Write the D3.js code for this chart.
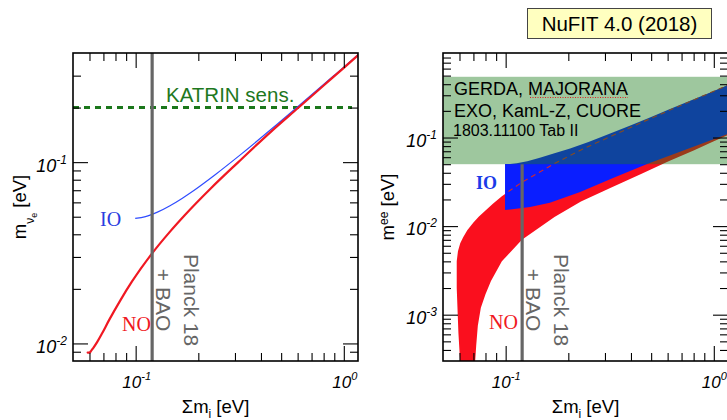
<!DOCTYPE html>
<html><head><meta charset="utf-8">
<script src="https://cdn.jsdelivr.net/npm/d3@7"></script>
<style>
body{margin:0;background:#fff}
svg{display:block}
text{font-family:"Liberation Sans",Arial,Helvetica,sans-serif}
.serif{font-family:"Liberation Serif","Times New Roman",serif}
</style>
</head><body>
<svg id="c" width="727" height="420"></svg>
<script>
// ---------------- data ----------------
const sumDomain = [0.05, 1.17];        // Σm_i [eV]
const mnueDomain = [0.008, 0.4];       // m_νe [eV]
const meeDomain = [0.0003, 0.9];       // m_ee [eV]

// left panel: m_νe vs Σm_i
const noMnueSum = [0.0588, 0.0600, 0.0611, 0.0624, 0.0654, 0.0688, 0.0744, 0.0847, 0.0959, 0.1197, 0.1452, 0.1716, 0.2300, 0.3123, 0.4500, 0.6064, 0.8000, 1.0000, 1.2030];
const noMnue    = [0.0089, 0.0089, 0.0091, 0.0094, 0.0102, 0.0113, 0.0134, 0.0174, 0.0219, 0.0313, 0.0410, 0.0508, 0.0718, 0.1004, 0.1484, 0.2002, 0.2647, 0.3314, 0.4001];
const ioMnueSum = [0.0995, 0.1115, 0.1272, 0.1462, 0.1677, 0.1911, 0.2418, 0.3236, 0.4661, 0.6123, 0.9082, 1.1614];
const ioMnue    = [0.0490, 0.0501, 0.0530, 0.0575, 0.0633, 0.0700, 0.0855, 0.1114, 0.1578, 0.2059, 0.3040, 0.3882];
const katrinSens = 0.2;
const planckBaoSum = 0.12;

// right panel: m_ee bands vs Σm_i
const noUpperSum = [0.0582, 0.0590, 0.0605, 0.0625, 0.0654, 0.0700, 0.0744, 0.0800, 0.0871, 0.0959, 0.1197, 0.1716, 0.2300, 0.3123, 0.4500, 0.6064, 0.8000, 1.0000, 1.1733];
const noUpperMee = [0.0040, 0.0052, 0.0064, 0.0075, 0.0090, 0.0110, 0.0128, 0.0150, 0.0180, 0.0218, 0.0313, 0.0508, 0.0725, 0.1004, 0.1480, 0.2010, 0.2660, 0.3330, 0.3910];
const noLowerRightSum = [0.0700, 0.0710, 0.0722, 0.0735, 0.0760, 0.0800, 0.0850, 0.0959, 0.1197, 0.1716, 0.2300, 0.3123, 0.4500, 0.6064, 0.8000, 1.0000, 1.1733];
const noLowerRightMee = [0.0001, 0.00025, 0.00045, 0.00075, 0.0012, 0.0017, 0.0024, 0.0040, 0.0070, 0.01265, 0.0190, 0.0264, 0.0390, 0.0540, 0.0715, 0.0910, 0.1070];
const noLowerLeftSum = [0.0582, 0.0593, 0.0604, 0.0610];
const noLowerLeftMee = [0.0020, 0.00062, 0.0003, 0.0001];
const ioUpperSum = [0.0993, 0.1050, 0.1130, 0.1270, 0.1460, 0.1700, 0.2040, 0.2500, 0.3200, 0.4000, 0.5000, 0.6200, 0.7800, 0.9500, 1.1700];
const ioUpperMee = [0.0502, 0.0504, 0.0512, 0.0540, 0.0590, 0.0660, 0.0750, 0.0890, 0.1120, 0.1380, 0.1710, 0.2110, 0.2630, 0.3190, 0.3920];
const ioLowerSum = [0.0993, 0.1310, 0.1630, 0.2280, 0.3280, 0.4780, 0.7690, 1.1700];
const ioLowerMee = [0.0152, 0.0164, 0.0183, 0.0243, 0.0349, 0.0502, 0.0762, 0.1100];
const bbLimitBand = [0.050, 0.485];   // 0νββ limits band

// axis tick labels
const xTickValues = [0.1, 1];
const xTickExp = ["-1", "0"];
const leftYTickValues = [0.01, 0.1];
const leftYTickExp = ["-2", "-1"];
const rightYTickValues = [0.001, 0.01, 0.1];
const rightYTickExp = ["-3", "-2", "-1"];

const bbLabels = ["GERDA, MAJORANA", "EXO, KamL-Z, CUORE", "1803.11100 Tab II"];
const title = "NuFIT 4.0 (2018)";

// ---------------- layout ----------------
const svg = d3.select("#c");
const L = {x0: 73, x1: 358, y0: 53, y1: 361};
const R = {x0: 443, x1: 728, y0: 53, y1: 361};

const xL = d3.scaleLog().domain(sumDomain).range([L.x0, L.x1]);
const yL = d3.scaleLog().domain(mnueDomain).range([L.y1, L.y0]);
const xR = d3.scaleLog().domain(sumDomain).range([R.x0, R.x1]);
const yR = d3.scaleLog().domain(meeDomain).range([R.y1, R.y0]);

const defs = svg.append("defs");
function clip(id, p) {
  defs.append("clipPath").attr("id", id).append("rect")
    .attr("x", p.x0).attr("y", p.y0).attr("width", p.x1 - p.x0).attr("height", p.y1 - p.y0);
}
clip("clipL", L); clip("clipR", R);
defs.append("clipPath").attr("id", "clipDash").append("rect")
  .attr("x", xR(ioUpperSum[0]) + 1).attr("y", R.y0).attr("width", R.x1 - xR(ioUpperSum[0])).attr("height", R.y1 - R.y0);

const zip = (a, b) => a.map((v, i) => [v, b[i]]);

// ---------------- left panel ----------------
const gL = svg.append("g").attr("clip-path", "url(#clipL)");
gL.append("line")
  .attr("x1", L.x0).attr("x2", L.x1 - 6)
  .attr("y1", yL(katrinSens)).attr("y2", yL(katrinSens))
  .attr("stroke", "#1b771b").attr("stroke-width", 3).attr("stroke-dasharray", "6,5");

const lineL = d3.line().x(d => xL(d[0])).y(d => yL(d[1])).curve(d3.curveMonotoneX);
gL.append("path").datum(zip(ioMnueSum, ioMnue)).attr("d", lineL)
  .attr("fill", "none").attr("stroke", "#2f4cff").attr("stroke-width", 1.2);
gL.append("path").datum(zip(noMnueSum, noMnue)).attr("d", lineL)
  .attr("fill", "none").attr("stroke", "#f01822").attr("stroke-width", 2.2).attr("stroke-linecap", "round");
gL.append("line")
  .attr("x1", xL(planckBaoSum)).attr("x2", xL(planckBaoSum))
  .attr("y1", L.y0).attr("y2", L.y1)
  .attr("stroke", "#666").attr("stroke-width", 3.2);

svg.append("text").attr("x", 166).attr("y", 102).attr("fill", "#1e781e")
  .style("font-size", "20.5px").text("KATRIN sens.");
svg.append("text").attr("class", "serif").attr("x", 100).attr("y", 226)
  .attr("fill", "#2a3ce0").style("font-size", "20px").text("IO");
svg.append("text").attr("class", "serif").attr("x", 122).attr("y", 331)
  .attr("fill", "#f01822").style("font-size", "20px").text("NO");

function planckText(xp) {
  const cy = 300;
  svg.append("text").attr("transform", `translate(${xp + 32},${cy}) rotate(90)`)
    .attr("text-anchor", "middle").attr("fill", "#666").style("font-size", "21px").text("Planck 18");
  svg.append("text").attr("transform", `translate(${xp + 4},${cy}) rotate(90)`)
    .attr("text-anchor", "middle").attr("fill", "#666").style("font-size", "21px").text("+ BAO");
}
planckText(xL(planckBaoSum));

// ---------------- right panel ----------------
const gR = svg.append("g").attr("clip-path", "url(#clipR)");
const lineR = d3.line().x(d => xR(d[0])).y(d => yR(d[1]));
const noPoly = zip(noUpperSum, noUpperMee)
  .concat(zip(noLowerRightSum, noLowerRightMee).reverse())
  .concat(zip(noLowerLeftSum, noLowerLeftMee).reverse());
gR.append("path").datum(noPoly).attr("d", d => lineR(d) + "Z").attr("fill", "#fa0f1e");
const ioPoly = zip(ioUpperSum, ioUpperMee).concat(zip(ioLowerSum, ioLowerMee).reverse());
gR.append("path").datum(ioPoly).attr("d", d => lineR(d) + "Z").attr("fill", "#0a1eff");
gR.append("g").attr("clip-path", "url(#clipDash)").append("path")
  .datum(zip(noUpperSum, noUpperMee)).attr("d", lineR)
  .attr("fill", "none").attr("stroke", "#d42a2a").attr("stroke-width", 1.1).attr("stroke-dasharray", "5,4");
gR.append("line")
  .attr("x1", xR(planckBaoSum)).attr("x2", xR(planckBaoSum))
  .attr("y1", yR(bbLimitBand[0])).attr("y2", R.y1)
  .attr("stroke", "#666").attr("stroke-width", 3.2);
gR.append("rect")
  .attr("x", R.x0).attr("width", R.x1 - R.x0)
  .attr("y", yR(bbLimitBand[1])).attr("height", yR(bbLimitBand[0]) - yR(bbLimitBand[1]))
  .attr("fill", "rgb(24,121,24)").attr("fill-opacity", 0.42);

svg.append("text").attr("x", 454).attr("y", 95).style("font-size", "18px").text(bbLabels[0]);
svg.append("line").attr("x1", 530).attr("x2", 628).attr("y1", 97.5).attr("y2", 97.5)
  .attr("stroke", "#e02020").attr("stroke-width", 1).attr("stroke-dasharray", "1,1.5");
svg.append("text").attr("x", 454).attr("y", 117).style("font-size", "18px").text(bbLabels[1]);
svg.append("text").attr("x", 453).attr("y", 136).style("font-size", "16px").text(bbLabels[2]);

svg.append("text").attr("class", "serif").attr("x", 476).attr("y", 189)
  .attr("fill", "#1a3be8").style("font-size", "18px").style("font-weight", "bold").text("IO");
svg.append("text").attr("class", "serif").attr("x", 489).attr("y", 329)
  .attr("fill", "#f01822").style("font-size", "20px").text("NO");
planckText(xR(planckBaoSum));

// ---------------- axes / frames ----------------
function isMajor(v) { const l = Math.log10(v); return Math.abs(l - Math.round(l)) < 1e-6; }
function drawTicks(p, x, y) {
  const [xd0, xd1] = x.domain(), [yd0, yd1] = y.domain();
  const xs = x.ticks().filter(v => v > xd0 * 1.001 && v < xd1 * 0.999);
  const ys = y.ticks().filter(v => v > yd0 * 1.001 && v < yd1 * 0.999);
  const xMin = xs.filter(v => !isMajor(v)), xMaj = xs.filter(isMajor);
  const yMin = ys.filter(v => !isMajor(v)), yMaj = ys.filter(isMajor);
  const specs = [
    [d3.axisBottom, x, `translate(0,${p.y1})`, xMin, xMaj],
    [d3.axisTop, x, `translate(0,${p.y0})`, xMin, xMaj],
    [d3.axisLeft, y, `translate(${p.x0},0)`, yMin, yMaj],
    [d3.axisRight, y, `translate(${p.x1},0)`, yMin, yMaj]
  ];
  specs.forEach(([ax, sc, tr, mn, mj]) => {
    [[mn, 8], [mj, 15]].forEach(([vals, len]) => {
      const g = svg.append("g").attr("transform", tr)
        .call(ax(sc).tickValues(vals).tickSize(-len).tickFormat(""));
      g.select(".domain").remove();
      g.selectAll("line").attr("stroke", "#000").attr("stroke-width", 1.1);
    });
  });
  svg.append("rect").attr("x", p.x0).attr("y", p.y0)
    .attr("width", p.x1 - p.x0).attr("height", p.y1 - p.y0)
    .attr("fill", "none").attr("stroke", "#000").attr("stroke-width", 1.6);
}
drawTicks(L, xL, yL);
drawTicks(R, xR, yR);

function powLabel(x, y, exp, anchor, fs, sfs) {
  const t = svg.append("text").attr("x", x).attr("y", y).attr("text-anchor", anchor)
    .style("font-style", "italic").style("font-size", fs + "px");
  t.append("tspan").text("10");
  t.append("tspan").attr("dy", -8).style("font-size", sfs + "px").text(exp);
}
xTickValues.forEach((v, i) => {
  powLabel(xL(v) + 1, 388, xTickExp[i], "middle", 17, 11);
  powLabel(xR(v) + 0.5, 388, xTickExp[i], "middle", 17, 11);
});
leftYTickValues.forEach((v, i) => powLabel(L.x0 - 6, yL(v) + 10, leftYTickExp[i], "end", 18, 12));
rightYTickValues.forEach((v, i) => powLabel(R.x0 - 6, yR(v) + 9, rightYTickExp[i], "end", 18, 12));

function xTitle(cx) {
  const t = svg.append("text").attr("x", cx).attr("y", 413).attr("text-anchor", "middle").style("font-size", "18.5px");
  t.append("tspan").text("Σm");
  t.append("tspan").attr("dy", 5).style("font-size", "12px").text("i");
  t.append("tspan").attr("dy", -5).text(" [eV]");
}
xTitle((L.x0 + L.x1) / 2);
xTitle((R.x0 + R.x1) / 2);

{
  const t = svg.append("text").attr("transform", "translate(26,207) rotate(-90)")
    .attr("text-anchor", "middle").style("font-size", "18.5px");
  t.append("tspan").text("m");
  t.append("tspan").attr("dy", 8).style("font-size", "12px").text("ν");
  t.append("tspan").attr("dy", 3).style("font-size", "9px").text("e");
  t.append("tspan").attr("dy", -11).text(" [eV]");
}
{
  const t = svg.append("text").attr("transform", "translate(394,207) rotate(-90)")
    .attr("text-anchor", "middle").style("font-size", "18.5px");
  t.append("tspan").text("m");
  t.append("tspan").attr("dy", -6).style("font-size", "12px").text("ee");
  t.append("tspan").attr("dy", 6).text(" [eV]");
}

// title box
svg.append("rect").attr("x", 527.5).attr("y", 8.5).attr("width", 184).attr("height", 30)
  .attr("fill", "#ffffc0").attr("stroke", "#444").attr("stroke-width", 1);
svg.append("text").attr("x", 619.5).attr("y", 31).attr("text-anchor", "middle")
  .style("font-size", "20.5px").text(title);
</script>
</body></html>
